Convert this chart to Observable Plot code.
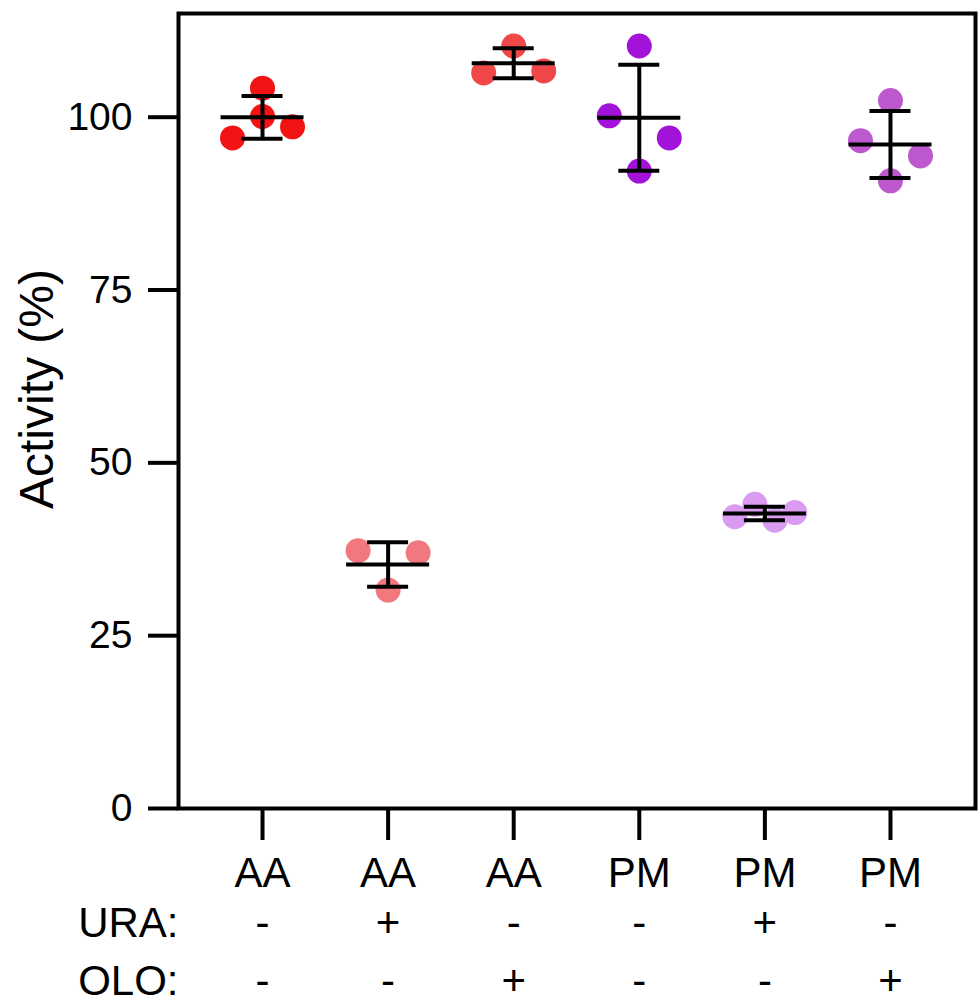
<!DOCTYPE html>
<html>
<head>
<meta charset="utf-8">
<script src="https://cdn.jsdelivr.net/npm/d3@7"></script>
<script src="https://cdn.jsdelivr.net/npm/@observablehq/plot@0.6"></script>
<style>
  html, body { margin: 0; padding: 0; background: #fff; }
  #chart svg { display: block; font-family: "Liberation Sans", Arial, Helvetica, sans-serif; }
</style>
</head>
<body>
<div id="chart"></div>
<script>
// ---- data ----
const groups = ["AA", "AA", "AA", "PM", "PM", "PM"];
const ura = ["-", "+", "-", "-", "+", "-"];
const olo = ["-", "-", "+", "-", "-", "+"];
const replicates = [
  [104.2, 97.0, 100.1, 98.6],
  [37.3, 37.0, 31.6],
  [106.4, 110.3, 106.7],
  [110.3, 100.2, 97.0, 92.2],
  [42.2, 44.0, 41.7, 42.8],
  [102.4, 96.6, 90.8, 94.4]
];
const yTicks = [0, 25, 50, 75, 100];
const yLabel = "Activity (%)";
const rowLabels = ["URA:", "OLO:"];

// ---- look ----
const palette = ["#f21414", "#f27880", "#f04848", "#a312d9", "#da9cf0", "#bd58cf"];
const W = 979, H = 1007, mt = 13, mb = 199, ml = 178, mr = 4;
const yDomain = [0, 115];
const xDomain = [-0.669, 5.677];
const R = 12.5;           // dot radius (px)
const spreadPx = 30;      // horizontal spread of colliding dots (px)
const meanHalfPx = 41.5;  // half width of mean line (px)
const capHalfPx = 20.5;   // half width of error caps (px)
const LW = 4;             // line width

const pxPerY = (H - mt - mb) / (yDomain[1] - yDomain[0]);
const pxPerX = (W - ml - mr) / (xDomain[1] - xDomain[0]);

// ---- dodge: cluster colliding replicates and spread them symmetrically ----
const points = [];
replicates.forEach((vals, gi) => {
  const order = d3.range(vals.length).sort((a, b) => vals[b] - vals[a]);
  const clusters = [];
  let cur = [order[0]];
  for (let k = 1; k < order.length; k++) {
    const gap = (vals[order[k - 1]] - vals[order[k]]) * pxPerY;
    if (gap < 2 * R + 1) cur.push(order[k]);
    else { clusters.push(cur); cur = [order[k]]; }
  }
  clusters.push(cur);
  clusters.forEach(c => {
    const members = c.slice().sort((a, b) => a - b);
    const n = members.length;
    members.forEach((idx, k) => {
      const offPx = n === 1 ? 0 : -spreadPx + (2 * spreadPx * k) / (n - 1);
      points.push({gi, value: vals[idx], x: gi + offPx / pxPerX});
    });
  });
});

const stats = replicates.map((vals, gi) => {
  const m = d3.mean(vals), sd = d3.deviation(vals);
  return {gi, mean: m, lo: m - sd, hi: m + sd};
});
const mw = meanHalfPx / pxPerX, cw = capHalfPx / pxPerX;
const info = groups.map((g, gi) => ({gi, g, ura: ura[gi], olo: olo[gi]}));

const chart = Plot.plot({
  width: W, height: H,
  marginTop: mt, marginBottom: mb, marginLeft: ml, marginRight: mr,
  style: {fontFamily: '"Liberation Sans", Arial, Helvetica, sans-serif', color: "#000", background: "#fff"},
  x: {domain: xDomain},
  y: {domain: yDomain},
  color: {type: "ordinal", domain: d3.range(groups.length), range: palette},
  marks: [
    Plot.dot(points, {x: "x", y: "value", r: R, fill: "gi", stroke: null}),
    Plot.ruleX(stats, {x: "gi", y1: "lo", y2: "hi", stroke: "#000", strokeWidth: LW}),
    Plot.ruleY(stats, {y: "hi", x1: d => d.gi - cw, x2: d => d.gi + cw, stroke: "#000", strokeWidth: LW}),
    Plot.ruleY(stats, {y: "lo", x1: d => d.gi - cw, x2: d => d.gi + cw, stroke: "#000", strokeWidth: LW}),
    Plot.ruleY(stats, {y: "mean", x1: d => d.gi - mw, x2: d => d.gi + mw, stroke: "#000", strokeWidth: LW}),
    Plot.frame({stroke: "#000", strokeWidth: LW}),
    Plot.axisY({ticks: yTicks, tickSize: 30, tickPadding: 16, fontSize: 39, stroke: "#000", strokeWidth: LW, strokeOpacity: 1, label: null, tickFormat: d => String(d)}),
    Plot.axisX({ticks: d3.range(groups.length), tickSize: 32, tickPadding: 17, fontSize: 42, stroke: "#000", strokeWidth: LW, strokeOpacity: 1, label: null, tickFormat: i => groups[i]}),
    Plot.text(info, {x: "gi", text: "ura", frameAnchor: "bottom", lineAnchor: "top", dy: 99, fontSize: 42, fill: "#000"}),
    Plot.text(info, {x: "gi", text: "olo", frameAnchor: "bottom", lineAnchor: "top", dy: 157, fontSize: 42, fill: "#000"}),
    Plot.text([rowLabels[0]], {text: d => d, frameAnchor: "bottom-left", textAnchor: "end", lineAnchor: "top", dy: 99, fontSize: 42, fill: "#000"}),
    Plot.text([rowLabels[1]], {text: d => d, frameAnchor: "bottom-left", textAnchor: "end", lineAnchor: "top", dy: 157, fontSize: 42, fill: "#000"}),
    Plot.text([yLabel], {text: d => d, frameAnchor: "left", textAnchor: "middle", rotate: -90, dx: -141, dy: -22, fontSize: 48, fill: "#000"})
  ]
});
document.getElementById("chart").appendChild(chart);
</script>
</body>
</html>
